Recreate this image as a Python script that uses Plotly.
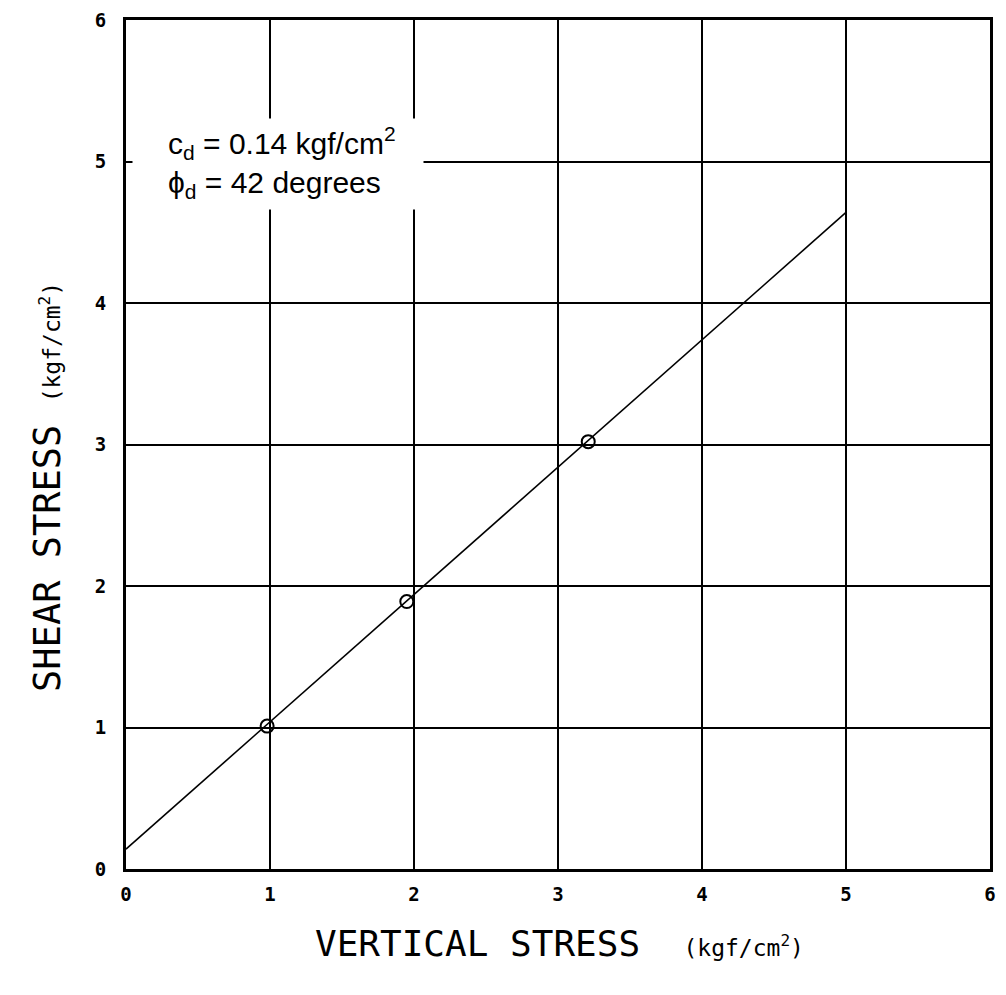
import plotly.graph_objects as go

# Data
test_x = [0.98, 1.95, 3.21]        # vertical stress (kgf/cm2)
test_y = [1.01, 1.89, 3.02]        # shear stress (kgf/cm2)
fit_x = [0.0, 5.0]                 # failure envelope end points
fit_y = [0.14, 4.64]
tick_vals = [0, 1, 2, 3, 4, 5, 6]
tick_text = ["0", "1", "2", "3", "4", "5", "6"]

mono = "DejaVu Sans Mono"
sans = "Liberation Sans"

fig = go.Figure()
fig.add_trace(go.Scatter(
    x=fit_x, y=fit_y, mode="lines",
    line=dict(color="black", width=1.6), showlegend=False, hoverinfo="skip"))
fig.add_trace(go.Scatter(
    x=test_x, y=test_y, mode="markers",
    marker=dict(symbol="circle-open", size=13, color="black", line=dict(width=2)),
    showlegend=False))

axis_common = dict(
    range=[0, 6], tickvals=tick_vals, ticktext=tick_text,
    showgrid=True, gridcolor="black", gridwidth=2,
    zeroline=False, showline=True, linecolor="black", linewidth=3, mirror=True,
    ticks="", tickfont=dict(family=mono, size=19, color="black", weight="bold"),
    ticklabeloverflow="allow", automargin=False,
)
fig.update_xaxes(**axis_common, ticklabelstandoff=6)
fig.update_yaxes(**axis_common, ticklabelstandoff=13)

# white box behind the parameter text
fig.add_annotation(
    x=0.04, y=4.98, xref="x", yref="y", xanchor="left", yanchor="middle",
    text=" ", width=290, height=90, bgcolor="white", showarrow=False, borderpad=0)
fig.add_annotation(
    x=0.28, y=4.99, xref="x", yref="y", xanchor="left", yanchor="middle",
    align="left", showarrow=False,
    text="c<sub>d</sub> = 0.14 kgf/cm<sup>2</sup><br>ϕ<sub>d</sub> = 42 degrees",
    font=dict(family=sans, size=30, color="black"))

# axis titles
fig.add_annotation(
    x=0.502, y=-0.0872, xref="paper", yref="paper", xanchor="center", yanchor="middle",
    showarrow=False,
    text="VERTICAL STRESS  <span style='font-size:23px'>(kgf/cm<sup>2</sup>)</span>",
    font=dict(family=mono, size=36, color="black"))
fig.add_annotation(
    x=-0.0903, y=0.450, xref="paper", yref="paper", xanchor="center", yanchor="middle",
    showarrow=False, textangle=-90,
    text="SHEAR STRESS <span style='font-size:23px'>(kgf/cm<sup>2</sup>)</span>",
    font=dict(family=mono, size=37, color="black"))

fig.update_layout(
    width=990, height=970,
    margin=dict(l=118, r=8, t=12, b=109, autoexpand=False),
    paper_bgcolor="white", plot_bgcolor="white",
    showlegend=False,
)

fig.write_html("out.html")
